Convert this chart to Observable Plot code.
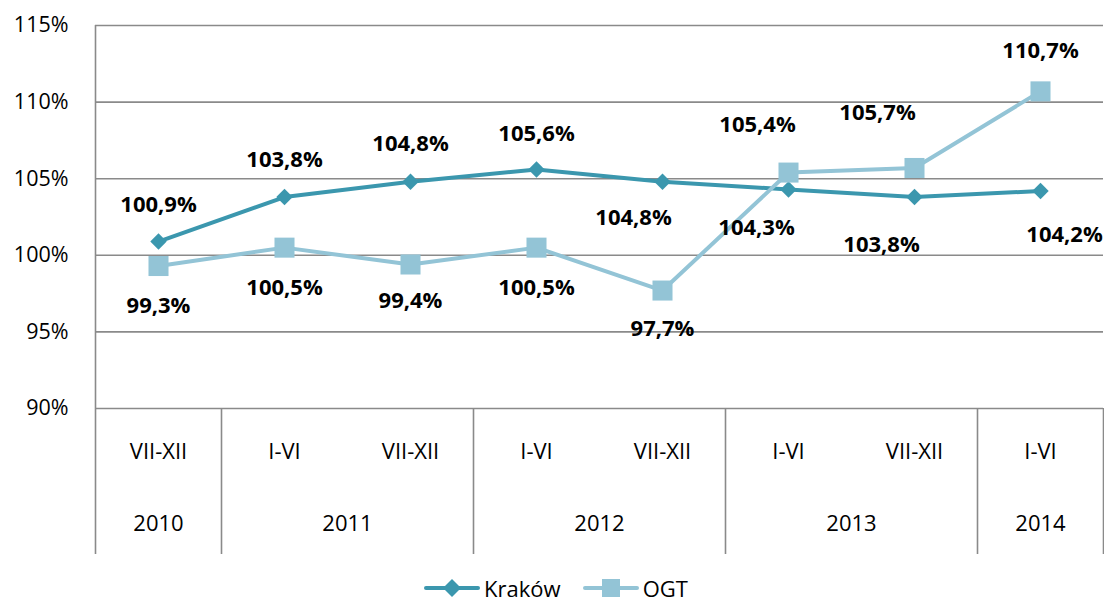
<!DOCTYPE html>
<html><head><meta charset="utf-8">
<script src="https://cdn.jsdelivr.net/npm/d3@7"></script>
<script src="https://cdn.jsdelivr.net/npm/@observablehq/plot@0.6"></script>
<style>
body{margin:0;background:#fff;font-family:"Open Sans",sans-serif;}
#legend{display:flex;justify-content:center;align-items:center;height:28px;font-size:22px;color:#000;padding-left:8px;}
#legend .it{display:flex;align-items:center;margin:0 11px;}
</style></head>
<body><div id="chart"></div><div id="legend"></div>
<script>
const periods = ["VII-XII","I-VI","VII-XII","I-VI","VII-XII","I-VI","VII-XII","I-VI"];
const years = ["2010","2011","2011","2012","2012","2013","2013","2014"];
const krakow = [100.9,103.8,104.8,105.6,104.8,104.3,103.8,104.2];
const ogt = [99.3,100.5,99.4,100.5,97.7,105.4,105.7,110.7];
const yTicks = [90,95,100,105,110,115];
const seriesNames = ["Kraków","OGT"];

const cK = "#3b97ae", cO = "#93c4d6";
// label placement (pixel offsets) — styling only
const kOff = [[0,-37],[0,-37],[0,-38],[0,-36],[-29,36],[-32,39],[-33,48],[24,44]];
const oOff = [[0,40],[0,40],[0,36],[0,40],[0,38],[-31,-48],[-37,-55],[0,-40]];

const fmt = v => v.toFixed(1).replace(".", ",") + "%";
const rowsK = krakow.map((v,i)=>({i,v}));
const rowsO = ogt.map((v,i)=>({i,v}));

const groups = [];
years.forEach((y,i)=>{
  const g = groups.find(g=>g.y===y);
  if (g) g.idx.push(i); else groups.push({y, idx:[i]});
});
const yearLabels = groups.map(g=>({x:d3.mean(g.idx), t:g.y}));
const seps = [-0.5, ...groups.map(g=>d3.max(g.idx)+0.5)];

const labelMarks = [];
rowsK.forEach((d,i)=>labelMarks.push(Plot.text([d],{x:"i",y:"v",text:d=>fmt(d.v),dx:kOff[i][0],dy:kOff[i][1],fontSize:22,fontWeight:"bold",fill:"#000"})));
rowsO.forEach((d,i)=>labelMarks.push(Plot.text([d],{x:"i",y:"v",text:d=>fmt(d.v),dx:oOff[i][0],dy:oOff[i][1],fontSize:22,fontWeight:"bold",fill:"#000"})));

const chart = Plot.plot({
  width:1104, height:574,
  marginLeft:95, marginRight:1, marginTop:25, marginBottom:166,
  style:{fontFamily:"Open Sans", background:"#fff"},
  x:{domain:[-0.5,7.5], axis:null},
  y:{domain:[90,115], ticks:yTicks, tickFormat:d=>d+"%", tickSize:0, tickPadding:27, label:null},
  marks:[
    Plot.axisY({ticks:yTicks, tickFormat:d=>d+"%", tickSize:0, tickPadding:27, fontSize:21.5, label:null, fill:"#000"}),
    Plot.ruleY(yTicks,{stroke:"#8a8a8a",strokeWidth:1.6}),
    Plot.ruleX([-0.5],{stroke:"#8a8a8a",strokeWidth:1.6}),
    Plot.ruleX(seps,{y1:90,y2:90,insetBottom:-146,stroke:"#8a8a8a",strokeWidth:1.6}),
    Plot.text(periods,{x:(d,i)=>i,text:d=>d,frameAnchor:"bottom",lineAnchor:"middle",dy:43,fontSize:22,fill:"#000"}),
    Plot.text(yearLabels,{x:"x",text:"t",frameAnchor:"bottom",lineAnchor:"middle",dy:115,fontSize:22,fill:"#000"}),
    Plot.line(rowsK,{x:"i",y:"v",stroke:cK,strokeWidth:4}),
    Plot.line(rowsO,{x:"i",y:"v",stroke:cO,strokeWidth:4}),
    Plot.dot(rowsK,{x:"i",y:"v",symbol:"diamond2",r:7.4,fill:cK,stroke:"none"}),
    Plot.dot(rowsO,{x:"i",y:"v",symbol:"square",r:11.3,fill:cO,stroke:"none"}),
    ...labelMarks
  ]
});
document.getElementById("chart").appendChild(chart);

const leg = document.getElementById("legend");
const sw = [
  {name:seriesNames[0], c:cK, shape:'<path d="M28,5 L37,14 L28,23 L19,14 Z" fill="'+cK+'"/>'},
  {name:seriesNames[1], c:cO, shape:'<rect x="19" y="5" width="18" height="18" fill="'+cO+'"/>'}
];
sw.forEach(s=>{
  const d = document.createElement("div"); d.className="it";
  d.innerHTML = '<svg width="56" height="28"><line x1="2" x2="54" y1="14" y2="14" stroke="'+s.c+'" stroke-width="4" stroke-linecap="round"/>'+s.shape+'</svg><span style="margin-left:4px">'+s.name+'</span>';
  leg.appendChild(d);
});
</script></body></html>
